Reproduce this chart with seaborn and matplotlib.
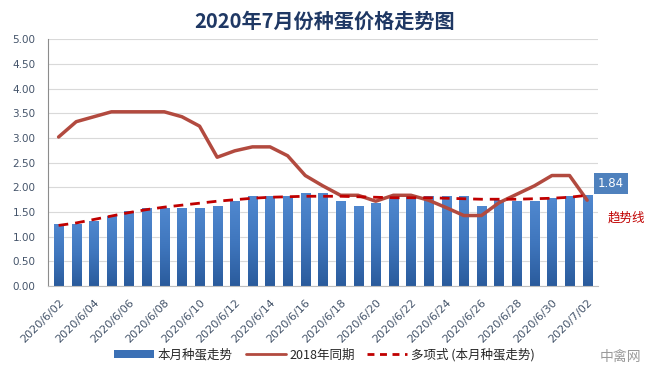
import numpy as np
import pandas as pd
import seaborn as sns
import matplotlib.pyplot as plt
from matplotlib.patches import Patch
from matplotlib.lines import Line2D
from matplotlib.colors import LinearSegmentedColormap

# 日期 2020/6/02 - 2020/7/02
dates = ['2020/6/%02d' % d for d in range(2, 31)] + ['2020/7/01', '2020/7/02']

# 本月种蛋走势
price_2020 = [1.25, 1.25, 1.32, 1.42, 1.52, 1.58, 1.58, 1.58, 1.58, 1.62,
              1.72, 1.82, 1.82, 1.82, 1.88, 1.88, 1.72, 1.62, 1.68, 1.80,
              1.82, 1.82, 1.82, 1.82, 1.62, 1.74, 1.72, 1.72, 1.78, 1.82,
              1.84]

# 2018年同期
price_2018 = [3.02, 3.33, 3.43, 3.53, 3.53, 3.53, 3.53, 3.43, 3.24, 2.61,
              2.74, 2.82, 2.82, 2.64, 2.24, 2.03, 1.84, 1.84, 1.72, 1.84,
              1.84, 1.74, 1.59, 1.43, 1.43, 1.69, 1.86, 2.03, 2.24, 2.24,
              1.74]

# 多项式趋势线
trend = [1.23, 1.28, 1.35, 1.42, 1.49, 1.55, 1.60, 1.64, 1.68, 1.72,
         1.75, 1.78, 1.80, 1.81, 1.82, 1.82, 1.82, 1.81, 1.80, 1.79,
         1.79, 1.79, 1.78, 1.77, 1.76, 1.76, 1.76, 1.77, 1.78, 1.80,
         1.84]

df = pd.DataFrame({'date': dates, 'idx': range(len(dates)),
                   'p2020': price_2020, 'p2018': price_2018, 'trend': trend})

sns.set_style('white')
plt.rcParams['font.family'] = ['Noto Sans CJK SC', 'DejaVu Sans']

fig = plt.figure(figsize=(6.49, 3.92), dpi=100)
ax = fig.add_axes([0.074, 0.27, 0.847, 0.63])

bar_c = '#3b70b5'
line_c = '#b24a3f'
trend_c = '#c00000'
txt_c = '#44546a'

ax.set_axisbelow(True)
ax.yaxis.grid(True, color='#d9d9d9', linewidth=0.8)

sns.barplot(data=df, x='date', y='p2020', color=bar_c, width=0.52,
            saturation=1, ax=ax)

# 柱子渐变填充 (上浅下深)
grad = LinearSegmentedColormap.from_list('g', ['#2a5b9c', '#3f76bd', '#5088cf'])
gimg = np.linspace(0, 1, 256).reshape(-1, 1)
for p in ax.patches:
    x0, w, h = p.get_x(), p.get_width(), p.get_height()
    im = ax.imshow(gimg, cmap=grad, origin='lower', aspect='auto',
                   extent=[x0, x0 + w, 0, h], zorder=p.get_zorder())
    im.set_clip_path(p)
    p.set_facecolor('none')

sns.lineplot(data=df, x='idx', y='p2018', color=line_c, linewidth=2.5, ax=ax)
sns.lineplot(data=df, x='idx', y='trend', color=trend_c, linewidth=2,
             ax=ax, dashes=False, linestyle=(0, (3.5, 2.5)))

ax.set_xlim(-0.6, len(dates) - 0.4)
ax.set_ylim(0, 5)
ax.set_yticks(np.arange(0, 5.01, 0.5))
ax.set_yticklabels(['%.2f' % v for v in np.arange(0, 5.01, 0.5)],
                   color=txt_c, fontsize=7.5, family='DejaVu Sans')
ax.set_xticks(range(0, len(dates), 2))
ax.set_xticklabels(dates[::2], rotation=45, ha='right', rotation_mode='anchor',
                   color=txt_c, fontsize=8, family='DejaVu Sans')
ax.tick_params(axis='x', length=0, pad=8)
ax.tick_params(axis='y', length=0, pad=9)
ax.set_xlabel('')
ax.set_ylabel('')
for s in ['top', 'right']:
    ax.spines[s].set_visible(False)
ax.spines['left'].set_color('#8c8c8c')
ax.spines['bottom'].set_color('#bfbfbf')

fig.text(0.5, 0.945, '2020年7月份种蛋价格走势图', ha='center', va='center',
         fontsize=14.5, fontweight='bold', color='#1f3864')

# 数据标签
ax.text(30.6, 2.08, '%.2f' % price_2020[-1], ha='left', va='center',
        color='white', fontsize=8.5, family='DejaVu Sans',
        bbox=dict(boxstyle='square,pad=0.35', fc='#4f81bd', ec='none'),
        clip_on=False)
fig.text(0.937, 0.443, '趋势线', ha='left', va='center', color=trend_c,
         fontsize=9)

handles = [Patch(facecolor=bar_c, edgecolor='none'),
           Line2D([], [], color=line_c, linewidth=2),
           Line2D([], [], color=trend_c, linewidth=2, linestyle=(0, (2.5, 2)))]
labels = ['本月种蛋走势', '2018年同期', '多项式 (本月种蛋走势)']
fig.legend(handles, labels, loc='center', bbox_to_anchor=(0.5, 0.095),
           ncol=3, frameon=False, fontsize=9, handlelength=3.2,
           handleheight=0.5, columnspacing=1.0, handletextpad=0.3,
           labelcolor='#262626')

fig.text(0.988, 0.09, '中禽网', ha='right', va='center', color='#9a9a9a',
         fontsize=10)

plt.savefig('out.png', dpi=100)
